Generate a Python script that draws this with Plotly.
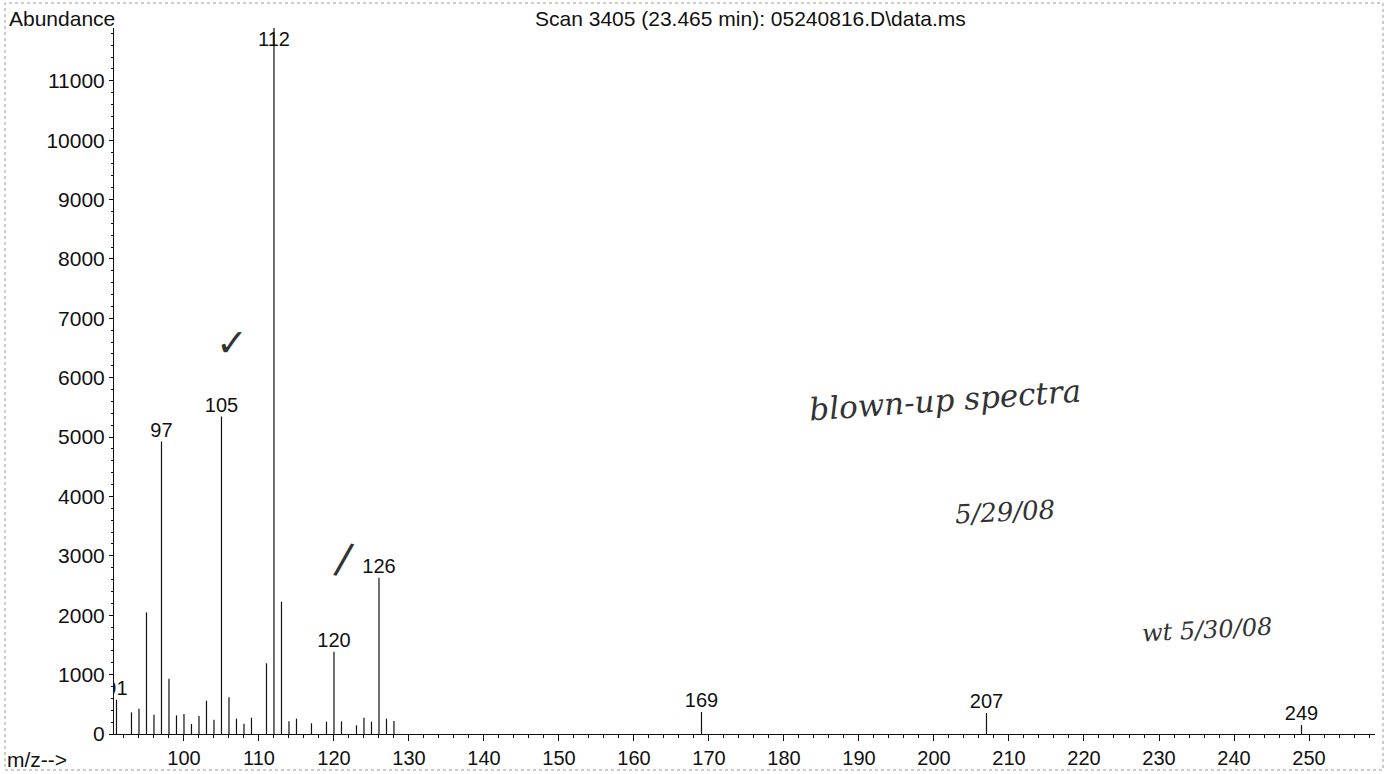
import plotly.graph_objects as go

# ---- data ----
mz = [91, 93, 94, 95, 96, 97, 98, 99, 100, 101, 102, 103, 104, 105, 106, 107, 108, 109,
      111, 112, 113, 114, 115, 117, 119, 120, 121, 123, 124, 125, 126, 127, 128,
      169, 207, 249]
abundance = [578, 365, 427, 2048, 325, 4926, 931, 314, 337, 168, 303, 561, 241, 5347, 617, 258, 174, 275,
             1190, 11890, 2228, 213, 258, 180, 208, 1386, 213, 146, 275, 208, 2631, 258, 218,
             370, 354, 152]
labeled_mz = [91, 97, 105, 112, 120, 126, 169, 207, 249]
x_ticks = list(range(100, 251, 10))
y_ticks = list(range(0, 11001, 1000))

title_text = "Scan 3405 (23.465 min): 05240816.D\\data.ms"

W, H = 1389, 774
L, R, T, B = 114, 14, 28, 40
X_RANGE = [90.67, 258.8]
Y_MAX = 11890

FONT = "Liberation Sans, Arial, sans-serif"
FS = 21

# stick spectrum
xs, ys = [], []
for m, v in zip(mz, abundance):
    xs += [m, m, None]
    ys += [0, v, None]

fig = go.Figure()
fig.add_trace(go.Scatter(x=xs, y=ys, mode="lines",
                         line=dict(color="#111111", width=1.2),
                         hoverinfo="skip", showlegend=False))

# peak labels (clipped to plot area like the original)
lab_y = [min(abundance[mz.index(m)], 11500) for m in labeled_mz]
fig.add_trace(go.Scatter(x=labeled_mz, y=lab_y, mode="text",
                         text=[str(m) for m in labeled_mz],
                         textposition="top center",
                         textfont=dict(family=FONT, size=FS - 1, color="#111111"),
                         cliponaxis=True, hoverinfo="skip", showlegend=False))


def px_x(p):
    return (p - L) / (W - L - R)


def px_y(p):
    return (H - B - p) / (H - T - B)


annotations = [
    dict(text="Abundance", x=px_x(7), y=px_y(18), xanchor="left", yanchor="middle"),
    dict(text=title_text, x=px_x(750), y=px_y(18), xanchor="center", yanchor="middle"),
    dict(text="m/z-->", x=px_x(5), y=px_y(759), xanchor="left", yanchor="middle"),
]
for a in annotations:
    a.update(xref="paper", yref="paper", showarrow=False,
             font=dict(family=FONT, size=FS, color="#111111"))

hand = dict(family="DejaVu Serif, serif", color="#333333")
notes = [
    dict(text="<i>blown-up spectra</i>", x=px_x(945), y=px_y(400), size=31, angle=-4),
    dict(text="<i>5/29/08</i>", x=px_x(1005), y=px_y(512), size=26, angle=-3),
    dict(text="<i>wt 5/30/08</i>", x=px_x(1207), y=px_y(630), size=24, angle=-3),
    dict(text="✓", x=px_x(232), y=px_y(343), size=38, angle=0),
    dict(text="/", x=px_x(344), y=px_y(558), size=42, angle=12),
]
for n in notes:
    annotations.append(dict(text=n["text"], x=n["x"], y=n["y"], xref="paper", yref="paper",
                            showarrow=False, textangle=n["angle"], xanchor="center", yanchor="middle",
                            font=dict(size=n["size"], **hand)))

# scanned page border (dotted)
shapes = [dict(type="rect", xref="paper", yref="paper",
               x0=px_x(5), x1=px_x(1383), y0=px_y(770), y1=px_y(3),
               line=dict(color="#999999", width=1, dash="dot"), layer="below")]

fig.update_layout(
    width=W, height=H, autosize=False,
    margin=dict(l=L, r=R, t=T, b=B, pad=0, autoexpand=False),
    paper_bgcolor="white", plot_bgcolor="white",
    font=dict(family=FONT, size=FS, color="#111111"),
    annotations=annotations, shapes=shapes,
    xaxis=dict(range=X_RANGE, tickvals=x_ticks, ticktext=[str(t) for t in x_ticks],
               automargin=False,
               showline=True, linecolor="#111111", linewidth=1,
               ticks="outside", ticklen=6, tickcolor="#111111", tickwidth=1,
               minor=dict(dtick=2, tick0=0, ticks="outside", ticklen=3, tickcolor="#111111"),
               showgrid=False, zeroline=False,
               tickfont=dict(family=FONT, size=FS - 1)),
    yaxis=dict(range=[0, Y_MAX], tickvals=y_ticks, ticktext=[str(t) for t in y_ticks],
               automargin=False,
               showline=True, linecolor="#111111", linewidth=1,
               ticks="outside", ticklen=4, tickcolor="#111111", tickwidth=1,
               minor=dict(dtick=200, tick0=0, ticks="outside", ticklen=2, tickcolor="#111111"),
               showgrid=False, zeroline=False,
               tickfont=dict(family=FONT, size=FS)),
)

fig.write_html("out.html", config={"displayModeBar": False},
               post_script="document.body.style.margin='0';document.body.style.overflow='hidden';")
